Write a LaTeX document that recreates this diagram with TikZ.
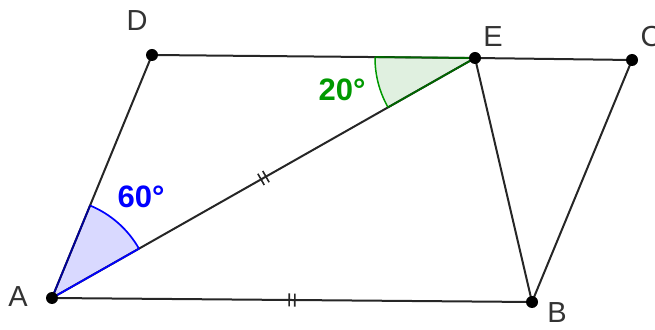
\documentclass[tikz,border=0pt]{standalone}
\usepackage{fontspec}
\setmainfont{Liberation Sans}
\usetikzlibrary{calc,decorations.markings}
\begin{document}
\begin{tikzpicture}[x=1pt,y=1pt,
  pt/.style={circle,fill=black,inner sep=0pt,minimum size=12pt},
  seg/.style={draw=black!85,line width=2pt},
  lbl/.style={font=\fontsize{29}{29}\selectfont,text=black!80},
  anglbl/.style={font=\bfseries\fontsize{31}{31}\selectfont},
  dtick/.style={postaction={decorate,decoration={markings,
     mark=at position 0.5 with {\draw[line width=1.6pt,black!85] (-2.8,-6.5)--(-2.8,6.5) (2.8,-6.5)--(2.8,6.5);}}}}
]
\clip (0,0) rectangle (655,329);
\useasboundingbox (0,0) rectangle (655,329);
\coordinate (A) at (52,31);
\coordinate (B) at (532,27);
\coordinate (C) at (632,269);
\coordinate (D) at (152,274);
\coordinate (E) at (475,271);
% angle sectors
\coordinate (a1) at ($(A)!100pt!(E)$);
\coordinate (a2) at ($(A)!100pt!(D)$);
\fill[blue!15] (A) -- (a1) arc[start angle=29.57,end angle=67.63,radius=100] -- cycle;
\coordinate (e1) at ($(E)!100pt!(D)$);
\coordinate (e2) at ($(E)!100pt!(A)$);
\fill[green!50!black!12] (E) -- (e1) arc[start angle=179.47,end angle=209.57,radius=100] -- cycle;
% segments
\path[seg] (A) -- (D);
\path[seg] (D) -- (E) -- (C);
\path[seg] (C) -- (B);
\path[seg] (E) -- (B);
\path[seg,dtick] (A) -- (E);
\path[seg,dtick] (A) -- (B);
% angle arcs and edges
\draw[blue,line width=1.7pt] (a1) arc[start angle=29.57,end angle=67.63,radius=100];
\draw[blue!60!black,line width=1.8pt] (A) -- (a2);
\draw[blue,line width=1.8pt] (A) -- (a1);
\draw[green!60!black,line width=1.5pt] (e1) arc[start angle=179.47,end angle=209.57,radius=100];
\draw[green!40!black,line width=1.8pt] (E) -- (e1);
\draw[green!40!black,line width=1.8pt] (E) -- (e2);
% points
\foreach \p in {A,B,C,D,E} \node[pt] (p\p) at (\p) {};
% labels
\node[lbl] (lA) at (18,32) {A};
\node[lbl] (lB) at (557,16) {B};
\node[lbl] (lC) at (651,292) {C};
\node[lbl] (lD) at (137,308) {D};
\node[lbl] (lE) at (493,292) {E};
\node[anglbl,text=blue] (l60) at (141,132) {60°};
\node[anglbl,text=green!60!black] (l20) at (342,239) {20°};
\end{tikzpicture}
\end{document}
